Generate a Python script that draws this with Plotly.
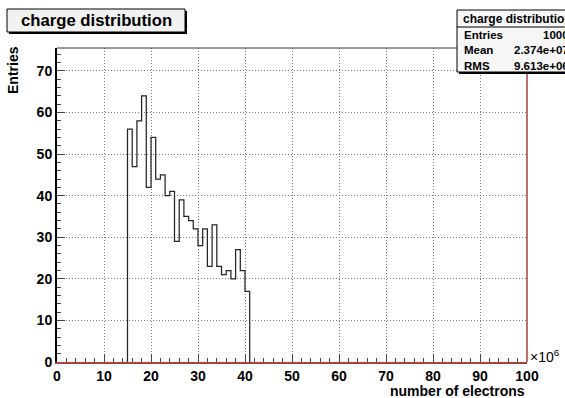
import plotly.graph_objects as go

# Histogram contents: 1e6-wide bins, low edges in units of 10^6 electrons
bin_low_edges = [15, 16, 17, 18, 19, 20, 21, 22, 23, 24, 25, 26, 27,
                 28, 29, 30, 31, 32, 33, 34, 35, 36, 37, 38, 39, 40]
counts = [56, 47, 58, 64, 42, 54, 44, 45, 40, 41, 29, 39, 35,
          34, 32, 28, 32, 23, 33, 23, 21, 22, 20, 27, 22, 17]
bin_width = 1

x_ticks = [0, 10, 20, 30, 40, 50, 60, 70, 80, 90, 100]
y_ticks = [0, 10, 20, 30, 40, 50, 60, 70]

hist_title = "charge distribution"
stats_rows = [("Entries", "1000"), ("Mean", "2.374e+07"), ("RMS", "9.613e+06")]

W, H = 565, 398
L, R, T, B = 57, 527, 48, 362  # frame edges in pixels
FONT = "Liberation Sans"
AXIS_RED = "#a8413a"
GRID_DASH = "1px,2px"


def px(x):
    return (x - L) / (R - L)


def py(y):
    return (B - y) / (B - T)


# Step outline of the histogram (closed down to zero at both ends)
step_x = [bin_low_edges[0]] + bin_low_edges + [bin_low_edges[-1] + bin_width]
step_y = [0] + counts + [0]

fig = go.Figure()
fig.add_trace(go.Scatter(
    x=step_x, y=step_y, mode="lines",
    line=dict(shape="hv", color="#262626", width=1.25),
    hoverinfo="skip", showlegend=False,
))

tick_font = dict(family=FONT, size=14, color="black", weight="bold")

fig.update_xaxes(
    range=[0, 100], tickvals=x_ticks, ticktext=[str(v) for v in x_ticks],
    ticks="inside", ticklen=8, tickcolor="#444", tickwidth=1,
    minor=dict(dtick=2, ticks="inside", ticklen=4, tickcolor="#444",
               showgrid=False),
    showgrid=True, gridcolor="#7a7a7a", griddash=GRID_DASH, gridwidth=1,
    showline=True, linecolor=AXIS_RED, linewidth=2,
    zeroline=False, tickfont=tick_font,
)
fig.update_yaxes(
    range=[0, 75.5], tickvals=y_ticks, ticktext=[str(v) for v in y_ticks],
    ticks="inside", ticklen=8, tickcolor="#444", tickwidth=1,
    minor=dict(dtick=2, ticks="inside", ticklen=4, tickcolor="#444",
               showgrid=False),
    showgrid=True, gridcolor="#7a7a7a", griddash=GRID_DASH, gridwidth=1,
    showline=True, linecolor="black", linewidth=2,
    zeroline=False, tickfont=tick_font,
)

shapes = [
    # top and right frame edges
    dict(type="line", xref="paper", yref="paper", x0=0, x1=1, y0=1, y1=1,
         line=dict(color="#333", width=1), layer="above"),
    dict(type="line", xref="paper", yref="paper", x0=1, x1=1, y0=0, y1=1,
         line=dict(color=AXIS_RED, width=1.5), layer="above"),
    # title box with shadow
    dict(type="rect", xref="paper", yref="paper",
         x0=px(9), x1=px(187), y0=py(34), y1=py(11),
         fillcolor="black", line=dict(width=0), layer="above"),
    dict(type="rect", xref="paper", yref="paper",
         x0=px(7), x1=px(185), y0=py(32), y1=py(9),
         fillcolor="#f1f1f1", line=dict(color="black", width=1), layer="above"),
    # stats box with shadow
    dict(type="rect", xref="paper", yref="paper",
         x0=px(459), x1=px(620), y0=py(74), y1=py(12),
         fillcolor="black", line=dict(width=0), layer="above"),
    dict(type="rect", xref="paper", yref="paper",
         x0=px(457), x1=px(618), y0=py(72), y1=py(10),
         fillcolor="#f6f6f6", line=dict(color="black", width=1), layer="above"),
    dict(type="line", xref="paper", yref="paper",
         x0=px(457), x1=px(618), y0=py(27), y1=py(27),
         line=dict(color="black", width=1), layer="above"),
]

annotations = [
    dict(text=hist_title, x=px(96), y=py(20.5), xanchor="center",
         yanchor="middle", font=dict(family=FONT, size=16.7, color="black",
                                     weight="bold")),
    dict(text=hist_title, x=px(461), y=py(18.5), xanchor="left",
         yanchor="middle", font=dict(family=FONT, size=12, color="black",
                                     weight="bold")),
    dict(text="number of electrons", x=px(R), y=py(391), xanchor="right",
         yanchor="middle", font=dict(family=FONT, size=14, color="black",
                                     weight="bold")),
    dict(text="Entries", x=px(13), y=py(44), xanchor="center",
         yanchor="top", textangle=-90,
         font=dict(family=FONT, size=14, color="black", weight="bold")),
    dict(text="×10<sup>6</sup>", x=px(R + 1), y=py(356), xanchor="left",
         yanchor="middle", font=dict(family=FONT, size=14, color="black")),
]
row_y = [35, 50, 65.5]
for (label, value), yy in zip(stats_rows, row_y):
    annotations.append(dict(text=label, x=px(462), y=py(yy), xanchor="left",
                            yanchor="middle",
                            font=dict(family=FONT, size=11.5, color="black",
                                      weight="bold")))
    annotations.append(dict(text=value, x=px(571), y=py(yy), xanchor="right",
                            yanchor="middle",
                            font=dict(family=FONT, size=11.5, color="black",
                                      weight="bold")))
for a in annotations:
    a.update(xref="paper", yref="paper", showarrow=False)

fig.update_layout(
    width=W, height=H,
    margin=dict(l=L, r=W - R, t=T, b=H - B, pad=0),
    paper_bgcolor="white", plot_bgcolor="white",
    shapes=shapes, annotations=annotations, showlegend=False,
)

fig.write_html("out.html")
